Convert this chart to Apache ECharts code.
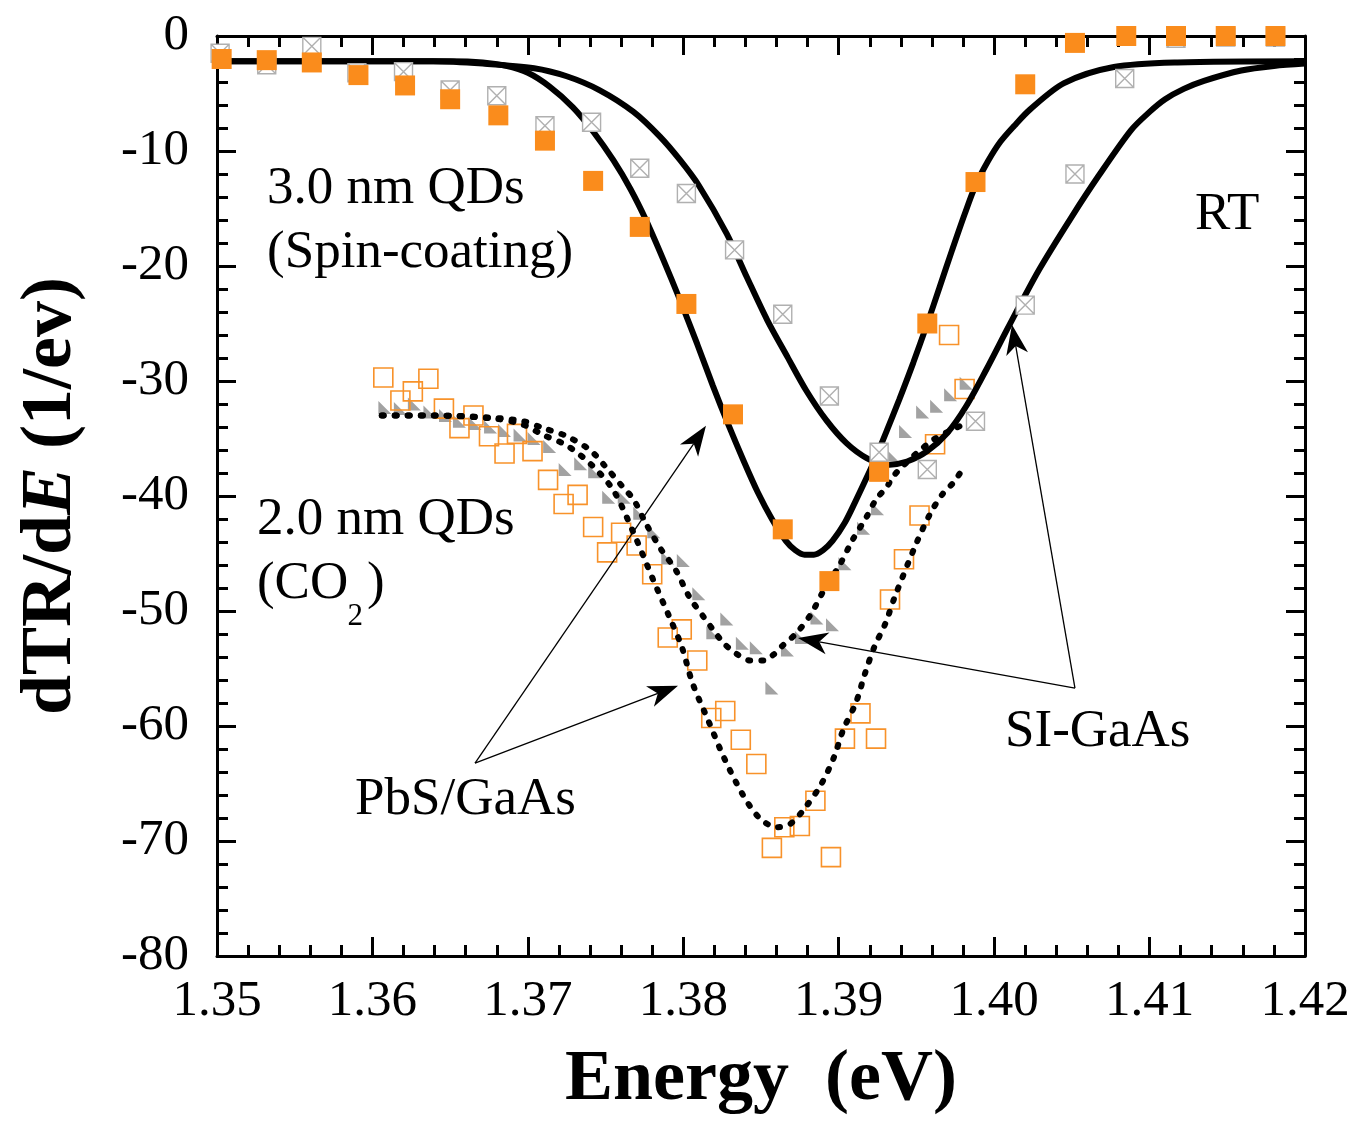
<!DOCTYPE html>
<html>
<head>
<meta charset="utf-8">
<script src="https://cdn.jsdelivr.net/npm/echarts@6/dist/echarts.min.js"></script>
<style>
html,body{margin:0;padding:0;background:#fff;}
#c{width:1356px;height:1123px;}
</style>
</head>
<body>
<div id="c"></div>
<script>
// ---------- data ----------
// 3.0 nm QDs on PbS/GaAs (filled orange squares)
const pbs3E = [1.3503,1.3532,1.3561,1.3591,1.3621,1.3650,1.3681,1.3711,1.3742,1.3772,1.3802,1.3832,1.3864,1.3894,1.3926,1.3957,1.3988,1.4020,1.4052,1.4085,1.4117,1.4149,1.4181];
const pbs3V = [-2.0,-2.1,-2.3,-3.4,-4.3,-5.5,-6.9,-9.1,-12.6,-16.6,-23.3,-32.9,-42.9,-47.4,-37.9,-25.0,-12.7,-4.2,-0.6,0,0,0,0];
// 3.0 nm QDs on SI-GaAs (grey crossed squares)
const si3E = [1.3502,1.3532,1.3561,1.3590,1.3620,1.3650,1.3680,1.3711,1.3741,1.3772,1.3802,1.3833,1.3864,1.3894,1.3926,1.3957,1.3988,1.4020,1.4052,1.4084,1.4117,1.4149,1.4181];
const si3V = [-1.5,-2.5,-0.9,-3.2,-3.1,-4.7,-5.2,-7.8,-7.5,-11.5,-13.7,-18.6,-24.2,-31.3,-36.2,-37.7,-33.5,-23.4,-12.0,-3.7,-0.2,-0.1,-0.1];
// 2.0 nm QDs on PbS/GaAs (open orange squares)
const pbs2E = [1.3607,1.3618,1.3626,1.3636,1.3646,1.3656,1.3665,1.3675,1.3685,1.3693,1.3703,1.3713,1.3723,1.3732,1.3742,1.3751,1.3760,1.3770,1.3780,1.3790,1.3799,1.3809,1.3818,1.3827,1.3837,1.3847,1.3857,1.3865,1.3875,1.3885,1.3895,1.3904,1.3914,1.3924,1.3933,1.3942,1.3952,1.3962,1.3971,1.3981];
const pbs2V = [-29.7,-31.7,-30.9,-29.8,-32.4,-34.1,-33.0,-34.8,-36.3,-34.6,-36.1,-38.6,-40.7,-39.9,-42.7,-44.9,-43.2,-44.3,-46.8,-52.3,-51.6,-54.3,-59.3,-58.7,-61.2,-63.3,-70.6,-68.8,-68.7,-66.5,-71.4,-61.1,-58.9,-61.1,-49.0,-45.5,-41.7,-35.5,-26.0,-30.7];
// 2.0 nm QDs on SI-GaAs (grey triangles)
const si2E = [1.3608,1.3618,1.3627,1.3637,1.3647,1.3656,1.3666,1.3676,1.3685,1.3695,1.3704,1.3714,1.3724,1.3734,1.3743,1.3752,1.3762,1.3772,1.3781,1.3790,1.3800,1.3810,1.3819,1.3828,1.3838,1.3847,1.3857,1.3867,1.3876,1.3886,1.3896,1.3904,1.3916,1.3925,1.3934,1.3943,1.3954,1.3963,1.3972,1.3982];
const si2V = [-32.3,-32.4,-32.0,-32.7,-33.0,-33.5,-33.7,-34.0,-34.3,-34.7,-35.0,-35.7,-37.7,-37.2,-37.9,-40.1,-40.1,-41.5,-43.1,-45.4,-45.6,-48.5,-51.9,-50.7,-52.8,-53.2,-56.7,-53.4,-52.3,-50.6,-51.2,-45.9,-42.8,-41.1,-36.4,-34.4,-32.7,-32.2,-31.2,-30.2];
// fitted curves (traced)
const fitPbs3E = [1.3500,1.3600,1.3650,1.3671,1.3686,1.3700,1.3714,1.3729,1.3742,1.3755,1.3766,1.3776,1.3787,1.3798,1.3809,1.3819,1.3829,1.3839,1.3848,1.3857,1.3866,1.3872,1.3878,1.3884,1.3890,1.3896,1.3904,1.3911,1.3918,1.3924,1.3931,1.3939,1.3948,1.3957,1.3965,1.3973,1.3981,1.3988,1.3996,1.4004,1.4013,1.4023,1.4045,1.4077,1.4118,1.4200];
const fitPbs3V = [-2.2,-2.2,-2.2,-2.3,-2.6,-3.2,-4.4,-6.2,-8.3,-10.8,-13.3,-16.0,-19.4,-23.0,-26.8,-30.4,-33.8,-37.0,-39.7,-42.0,-43.9,-44.7,-45.1,-45.1,-44.7,-43.9,-42.3,-40.4,-38.4,-36.6,-34.3,-31.6,-28.4,-25.0,-21.8,-18.6,-15.5,-13.0,-10.9,-9.2,-7.8,-6.4,-4.1,-2.7,-2.3,-2.2];
const fitSi3E = [1.3500,1.3600,1.3639,1.3671,1.3704,1.3725,1.3746,1.3768,1.3785,1.3798,1.3810,1.3828,1.3841,1.3854,1.3867,1.3879,1.3892,1.3905,1.3918,1.3931,1.3944,1.3957,1.3970,1.3982,1.3995,1.4008,1.4015,1.4029,1.4050,1.4067,1.4088,1.4100,1.4110,1.4122,1.4135,1.4159,1.4180,1.4200];
const fitSi3V = [-2.2,-2.2,-2.2,-2.4,-2.8,-3.5,-4.7,-6.6,-8.75,-10.8,-13.0,-17.2,-21.0,-24.7,-27.9,-30.8,-33.4,-35.4,-36.7,-37.3,-37.0,-36.1,-34.5,-32.2,-29.0,-25.6,-23.8,-20.3,-15.7,-12.2,-8.2,-6.6,-5.5,-4.6,-3.9,-3.0,-2.6,-2.4];
const fitPbs2E = [1.3606,1.3640,1.3680,1.3697,1.3710,1.3725,1.3741,1.3755,1.3768,1.3781,1.3791,1.3799,1.3806,1.3816,1.3826,1.3838,1.3849,1.3860,1.3869,1.3879,1.3889,1.3897,1.3903,1.3911,1.3917,1.3923,1.3930,1.3936,1.3950,1.3959,1.3967,1.3974,1.3980];
const fitPbs2V = [-33.0,-33.0,-33.3,-33.8,-34.7,-35.6,-37.3,-39.5,-43.2,-47.4,-50.5,-53.1,-56.3,-59.5,-62.7,-65.9,-68.0,-68.8,-68.5,-67.0,-65.0,-62.7,-60.3,-58.0,-55.4,-53.1,-51.1,-48.8,-44.1,-41.5,-39.8,-38.8,-37.6];
const fitSi2E = [1.3606,1.3640,1.3678,1.3697,1.3710,1.3725,1.3740,1.3749,1.3761,1.3768,1.3776,1.3786,1.3795,1.3804,1.3813,1.3819,1.3826,1.3834,1.3843,1.3852,1.3858,1.3864,1.3873,1.3882,1.3890,1.3901,1.3909,1.3918,1.3924,1.3931,1.3935,1.3942,1.3950,1.3961,1.3972,1.3980];
const fitSi2V = [-33.0,-33.0,-33.2,-33.5,-34.1,-34.8,-36.0,-37.3,-39.2,-40.3,-42.4,-44.7,-46.4,-48.8,-50.5,-51.6,-52.8,-53.7,-54.3,-54.3,-53.8,-53.0,-51.9,-50.3,-48.3,-45.9,-43.8,-41.8,-40.3,-39.2,-38.3,-37.3,-36.3,-35.1,-34.3,-33.8];
// axis ticks
const xTicks = [1.35,1.36,1.37,1.38,1.39,1.40,1.41,1.42];
const yTicks = [-80,-70,-60,-50,-40,-30,-20,-10,0];
// annotation texts (anchored in data coordinates)
const annText = ['3.0 nm QDs','(Spin-coating)','RT','2.0 nm QDs','(CO','2',')','PbS/GaAs','SI-GaAs'];
const annE    = [1.35322,1.35322,1.41292,1.35257,1.35257,1.35840,1.35965,1.35888,1.40070];
const annV    = [-13.35,-18.91,-15.61,-42.09,-47.70,-50.55,-47.70,-66.48,-60.57];
const annSize = [53,53,53,53,53,31,53,53,53];
// arrows
const arrFromE = [1.36660,1.36660,1.40520,1.40520];
const arrFromV = [-63.22,-63.22,-56.70,-56.70];
const arrToE   = [1.38146,1.37966,1.38738,1.40115];
const arrToV   = [-33.90,-56.50,-52.35,-25.10];

// ---------- chart ----------
const FONT = '"Liberation Serif","Times New Roman",serif';
const zip = (a, b) => a.map((v, i) => [v, b[i]]);
const chart = echarts.init(document.getElementById('c'), null, {renderer: 'canvas'});

const axisCommon = {
  axisLine: {show: true, onZero: false, lineStyle: {color: '#000', width: 3}},
  axisTick: {show: true, inside: true, length: 19, lineStyle: {color: '#000', width: 3}},
  minorTick: {show: true, splitNumber: 5, length: 11, lineStyle: {color: '#000', width: 3}},
  splitLine: {show: false},
  minorSplitLine: {show: false}
};

const option = {
  animation: false,
  backgroundColor: '#fff',
  grid: {left: 217, right: 51, top: 36, bottom: 167, containLabel: false, outerBoundsMode: 'none'},
  xAxis: [
    Object.assign({
      type: 'value', position: 'bottom',
      min: xTicks[0], max: xTicks[xTicks.length - 1], interval: 0.01,
      axisLabel: {show: true, margin: 20, fontFamily: FONT, fontSize: 51, color: '#000',
                  formatter: v => v.toFixed(2)},
      name: 'Energy  (eV)', nameLocation: 'middle', nameGap: 88,
      nameTextStyle: {fontFamily: FONT, fontSize: 72, fontWeight: 'bold', color: '#000'}
    }, axisCommon),
    Object.assign({
      type: 'value', position: 'top',
      min: xTicks[0], max: xTicks[xTicks.length - 1], interval: 0.01,
      axisLabel: {show: false}
    }, axisCommon)
  ],
  yAxis: [
    Object.assign({
      type: 'value', position: 'left',
      min: yTicks[0], max: yTicks[yTicks.length - 1], interval: 10,
      axisLabel: {show: true, margin: 28, fontFamily: FONT, fontSize: 51, color: '#000',
                  formatter: v => String(Math.round(v))},
      name: '{a|dTR/d}{b|E}{a| (1/ev)}', nameLocation: 'middle', nameGap: 130, nameRotate: 90,
      nameTextStyle: {
        color: '#000',
        rich: {
          a: {fontFamily: FONT, fontSize: 72, fontWeight: 'bold', color: '#000'},
          b: {fontFamily: FONT, fontSize: 72, fontWeight: 'bold', fontStyle: 'italic', color: '#000'}
        }
      }
    }, axisCommon),
    Object.assign({
      type: 'value', position: 'right',
      min: yTicks[0], max: yTicks[yTicks.length - 1], interval: 10,
      axisLabel: {show: false}
    }, axisCommon)
  ],
  series: [
    {type: 'scatter', name: 'SI-GaAs 2.0 nm', data: zip(si2E, si2V), clip: false,
     symbol: 'path://M0,0L0,10L10,10Z', symbolSize: 13,
     itemStyle: {color: '#A2A2A2', opacity: 1}, z: 2, emphasis: {disabled: true}},
    {type: 'scatter', name: 'PbS/GaAs 2.0 nm', data: zip(pbs2E, pbs2V), clip: false,
     symbol: 'rect', symbolSize: 19,
     itemStyle: {color: 'rgba(255,255,255,0)', borderColor: '#F8922A', borderWidth: 1.6, opacity: 1}, z: 3,
     emphasis: {disabled: true}},
    {type: 'line', name: 'fit SI-GaAs 2.0 nm', data: zip(fitSi2E, fitSi2V), showSymbol: false,
     smooth: 0.3, lineStyle: {color: '#000', width: 6, type: [2, 11], cap: 'round'}, z: 4,
     emphasis: {disabled: true}},
    {type: 'line', name: 'fit PbS/GaAs 2.0 nm', data: zip(fitPbs2E, fitPbs2V), showSymbol: false,
     smooth: 0.3, lineStyle: {color: '#000', width: 6, type: [2, 11], cap: 'round'}, z: 4,
     emphasis: {disabled: true}},
    {type: 'line', name: 'fit PbS/GaAs 3.0 nm', data: zip(fitPbs3E, fitPbs3V), showSymbol: false,
     smooth: 0.3, lineStyle: {color: '#000', width: 6}, z: 5, emphasis: {disabled: true}},
    {type: 'line', name: 'fit SI-GaAs 3.0 nm', data: zip(fitSi3E, fitSi3V), showSymbol: false,
     smooth: 0.3, lineStyle: {color: '#000', width: 6}, z: 5, emphasis: {disabled: true}},
    {type: 'scatter', name: 'SI-GaAs 3.0 nm', data: zip(si3E, si3V), clip: false,
     symbol: 'path://M0,0L10,0L10,10L0,10Z M0,0L10,10 M10,0L0,10', symbolSize: 18,
     itemStyle: {color: '#fff', borderColor: '#B0B0B0', borderWidth: 1.4, opacity: 1}, z: 6,
     emphasis: {disabled: true}},
    {type: 'scatter', name: 'PbS/GaAs 3.0 nm', data: zip(pbs3E, pbs3V), clip: false,
     symbol: 'rect', symbolSize: 20, itemStyle: {color: '#FA8C1C', opacity: 1}, z: 7,
     emphasis: {disabled: true}}
  ]
};
chart.setOption(option);

// annotations & arrows positioned through the chart's own scales
const px = (e, v) => chart.convertToPixel({seriesIndex: 0}, [e, v]);
const graphics = [];
annText.forEach((t, i) => {
  const p = px(annE[i], annV[i]);
  graphics.push({
    type: 'text', x: p[0], y: p[1], z: 100, silent: true,
    style: {text: t, font: annSize[i] + 'px ' + FONT, fill: '#000',
            textAlign: 'left', textVerticalAlign: 'middle', align: 'left', verticalAlign: 'middle'}
  });
});
const HEAD_L = 30, HEAD_W = 22;
arrToE.forEach((e, i) => {
  const a = px(arrFromE[i], arrFromV[i]);
  const b = px(e, arrToV[i]);
  const dx = b[0] - a[0], dy = b[1] - a[1];
  const len = Math.hypot(dx, dy);
  const ux = dx / len, uy = dy / len, nx = -uy, ny = ux;
  const base = [b[0] - ux * HEAD_L, b[1] - uy * HEAD_L];
  const notch = [b[0] - ux * HEAD_L * 0.72, b[1] - uy * HEAD_L * 0.72];
  graphics.push({type: 'line', z: 100, silent: true,
    shape: {x1: a[0], y1: a[1], x2: notch[0], y2: notch[1]},
    style: {stroke: '#000', lineWidth: 1.3}});
  graphics.push({type: 'polygon', z: 100, silent: true,
    shape: {points: [b, [base[0] + nx * HEAD_W / 2, base[1] + ny * HEAD_W / 2], notch,
                     [base[0] - nx * HEAD_W / 2, base[1] - ny * HEAD_W / 2]]},
    style: {fill: '#000'}});
});
chart.setOption({graphic: graphics});
</script>
</body>
</html>
